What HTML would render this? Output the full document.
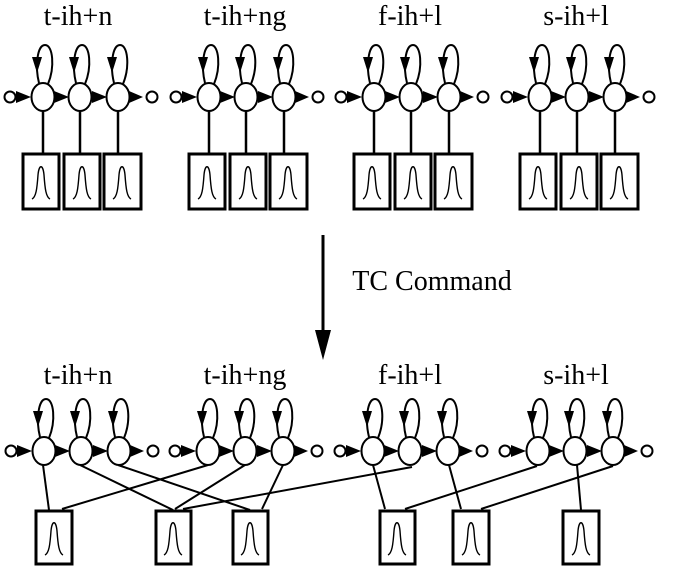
<!DOCTYPE html>
<html><head><style>body{margin:0;background:#fff}svg{display:block}</style></head><body>
<svg width="677" height="577" viewBox="0 0 677 577" xmlns="http://www.w3.org/2000/svg">
<defs>
<g id="gau"><path d="M-9,18 C-5,16 -4,8 -3,-6 C-2,-17 2,-17 3,-6 C4,8 5,16 9,18" fill="none" stroke="#000" stroke-width="1.4"/></g>
<g id="st">
<ellipse cx="0" cy="0" rx="11.5" ry="14" fill="#fff" stroke="#000" stroke-width="2"/>
<path d="M-4,-14 C-8,-30 -6,-52 2,-52 C10,-52 12,-30 5,-13" fill="none" stroke="#000" stroke-width="2"/>
<polygon points="-11,-40 -1,-40 -6,-24" fill="#000"/>
</g>
<g id="chain">
<circle cx="10" cy="0" r="5.5" fill="#fff" stroke="#000" stroke-width="2"/>
<polygon points="16,-6 16,6 31,0" fill="#000"/>
<use href="#st" x="43"/>
<polygon points="54,-6 54,6 69,0" fill="#000"/>
<use href="#st" x="80"/>
<polygon points="92,-6 92,6 107,0" fill="#000"/>
<use href="#st" x="118"/>
<polygon points="129,-6 129,6 143,0" fill="#000"/>
<circle cx="152" cy="0" r="5.5" fill="#fff" stroke="#000" stroke-width="2"/>
</g>
<g id="topgrp">
<use href="#chain" y="97"/>
<line x1="43" y1="111" x2="43" y2="153" stroke="#000" stroke-width="2.5"/>
<line x1="80" y1="111" x2="80" y2="153" stroke="#000" stroke-width="2.5"/>
<line x1="118" y1="111" x2="118" y2="153" stroke="#000" stroke-width="2.5"/>
<rect x="23" y="154" width="36" height="55" fill="#fff" stroke="#000" stroke-width="3"/>
<rect x="64" y="154" width="36" height="55" fill="#fff" stroke="#000" stroke-width="3"/>
<rect x="104" y="154" width="37" height="55" fill="#fff" stroke="#000" stroke-width="3"/>
<use href="#gau" x="41" y="181"/><use href="#gau" x="82" y="181"/><use href="#gau" x="122" y="181"/>
</g>
</defs>
<g font-family="Liberation Serif, serif" font-size="28" fill="#000" text-anchor="middle">
<text x="78" y="25">t-ih+n</text><text x="245" y="25">t-ih+ng</text><text x="410" y="25">f-ih+l</text><text x="576" y="25">s-ih+l</text>
<text x="78" y="384">t-ih+n</text><text x="245" y="384">t-ih+ng</text><text x="410" y="384">f-ih+l</text><text x="576" y="384">s-ih+l</text>
<text x="432" y="290">TC Command</text>
</g>
<use href="#topgrp" x="0"/><use href="#topgrp" x="166"/><use href="#topgrp" x="331"/><use href="#topgrp" x="497"/>
<line x1="323" y1="235" x2="323" y2="335" stroke="#000" stroke-width="3"/>
<polygon points="315,330 331,330 323,360" fill="#000"/>
<g stroke="#000" stroke-width="2" fill="none">
<line x1="43" y1="465" x2="49" y2="510"/>
<line x1="80" y1="465" x2="173" y2="510"/>
<line x1="118" y1="465" x2="250" y2="510"/>
<line x1="208" y1="465" x2="62" y2="509"/>
<line x1="245" y1="465" x2="175" y2="509"/>
<line x1="283" y1="465" x2="262" y2="509"/>
<line x1="412" y1="467" x2="183" y2="509"/>
<line x1="373" y1="465" x2="385" y2="509"/>
<line x1="449" y1="465" x2="461" y2="509"/>
<line x1="537" y1="466" x2="405" y2="509"/>
<line x1="613" y1="466" x2="481" y2="509"/>
<line x1="577" y1="465" x2="581" y2="510"/>
</g>
<use href="#chain" x="1" y="451"/><use href="#chain" x="165" y="451"/><use href="#chain" x="330" y="451"/><use href="#chain" x="495" y="451"/>
<g fill="#fff" stroke="#000" stroke-width="3">
<rect x="36" y="511" width="36" height="53"/>
<rect x="156" y="511" width="35" height="53"/>
<rect x="233" y="511" width="35" height="53"/>
<rect x="380" y="511" width="35" height="53"/>
<rect x="453" y="511" width="36" height="53"/>
<rect x="563" y="511" width="36" height="53"/>
</g>
<use href="#gau" x="54" y="537"/><use href="#gau" x="173" y="537"/><use href="#gau" x="250" y="537"/>
<use href="#gau" x="397" y="537"/><use href="#gau" x="471" y="537"/><use href="#gau" x="581" y="537"/>
</svg>
</body></html>
